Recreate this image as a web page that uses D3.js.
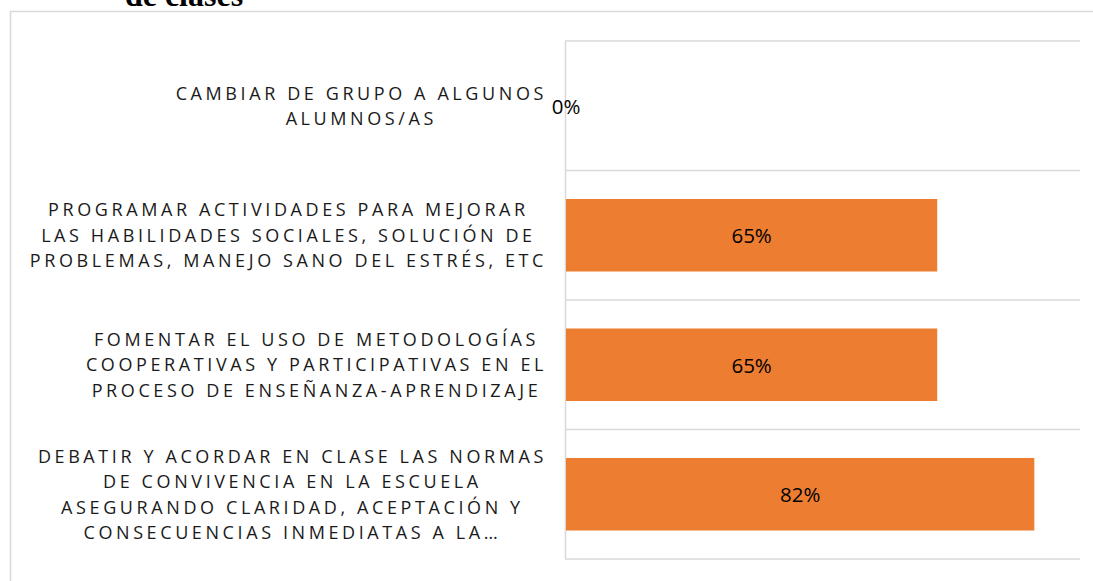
<!DOCTYPE html>
<html>
<head>
<meta charset="utf-8">
<script src="https://cdn.jsdelivr.net/npm/d3@7"></script>
<style>
  html, body { margin: 0; padding: 0; background: #fff; }
  svg { display: block; }
</style>
</head>
<body>
<div id="container"></div>
<script>
// chart data
const categories = [
    ['CAMBIAR DE GRUPO A ALGUNOS', 'ALUMNOS/AS'],
    ['PROGRAMAR ACTIVIDADES PARA MEJORAR', 'LAS HABILIDADES SOCIALES, SOLUCIÓN DE', 'PROBLEMAS, MANEJO SANO DEL ESTRÉS, ETC'],
    ['FOMENTAR EL USO DE METODOLOGÍAS', 'COOPERATIVAS Y PARTICIPATIVAS EN EL', 'PROCESO DE ENSEÑANZA-APRENDIZAJE'],
    ['DEBATIR Y ACORDAR EN CLASE LAS NORMAS', 'DE CONVIVENCIA EN LA ESCUELA', 'ASEGURANDO CLARIDAD, ACEPTACIÓN Y', 'CONSECUENCIAS INMEDIATAS A LA…']
];
const values = [0, 0.65, 0.65, 0.82];
const titleText = 'de clases';

const W = 1093, H = 581;
const svg = d3.select('#container')
    .append('svg')
    .attr('width', W)
    .attr('height', H);

// outer chart border (runs off the right and bottom edges)
svg.append('rect')
    .attr('x', 10.5)
    .attr('y', 11.5)
    .attr('width', 1200)
    .attr('height', 700)
    .attr('fill', 'none')
    .attr('stroke', '#d9d9d9')
    .attr('stroke-width', 1.5);

// title, mostly cut off at the top (as in the source)
svg.append('text')
    .attr('x', 184)
    .attr('y', 6)
    .attr('text-anchor', 'middle')
    .attr('font-family', '"Liberation Serif", "Times New Roman", serif')
    .attr('font-weight', 'bold')
    .attr('font-size', 32)
    .attr('fill', '#000')
    .text(titleText);

const x = d3.scaleLinear().domain([0, 0.9]).range([566, 1080]);
const idx = categories.map((_, i) => i);
const y = d3.scaleBand().domain(idx).range([41, 559])
    .paddingInner(0.44).paddingOuter(0.22);

// category gridlines
const bounds = d3.range(categories.length + 1).map(i => y.range()[0] + i * y.step());
svg.append('g')
    .selectAll('line')
    .data(bounds)
    .enter()
    .append('line')
    .attr('x1', 565)
    .attr('x2', x.range()[1])
    .attr('y1', d => d)
    .attr('y2', d => d)
    .attr('stroke', '#d9d9d9')
    .attr('stroke-width', 1.5);

// left axis line
svg.append('line')
    .attr('x1', 565.5)
    .attr('x2', 565.5)
    .attr('y1', y.range()[0])
    .attr('y2', y.range()[1])
    .attr('stroke', '#d9d9d9')
    .attr('stroke-width', 1.5);

// bars
svg.append('g')
    .selectAll('rect')
    .data(values)
    .enter()
    .append('rect')
    .attr('x', x(0))
    .attr('y', (_, i) => y(i))
    .attr('width', d => x(d) - x(0))
    .attr('height', y.bandwidth())
    .attr('fill', '#ED7D31');

// data labels
svg.append('g')
    .selectAll('text')
    .data(values)
    .enter()
    .append('text')
    .attr('x', d => (x(d) + x(0)) / 2)
    .attr('y', (_, i) => y(i) + y.bandwidth() / 2 + 8)
    .attr('text-anchor', 'middle')
    .attr('font-family', '"Open Sans", sans-serif')
    .attr('font-size', 20.5)
    .attr('fill', '#000')
    .text(d => Math.round(d * 100) + '%');

// category labels: block right-aligned to the axis, lines centred inside
const lineH = 25.5;
const labelRight = 547;
const lbl = svg.append('g')
    .attr('font-family', '"Open Sans", sans-serif')
    .attr('font-size', 18)
    .attr('letter-spacing', 3.6)
    .attr('fill', '#1a1a1a');

categories.forEach((lines, i) => {
    const g = lbl.append('g');
    const cy = y(i) + y.bandwidth() / 2;
    const t = g.selectAll('text')
        .data(lines)
        .enter()
        .append('text')
        .attr('y', (_, j) => cy + (j - (lines.length - 1) / 2) * lineH + 6.5)
        .text(d => d);
    const widths = t.nodes().map(n => n.getComputedTextLength());
    const maxW = d3.max(widths);
    t.attr('x', (_, j) => labelRight - maxW + (maxW - widths[j]) / 2);
});
</script>
</body>
</html>
